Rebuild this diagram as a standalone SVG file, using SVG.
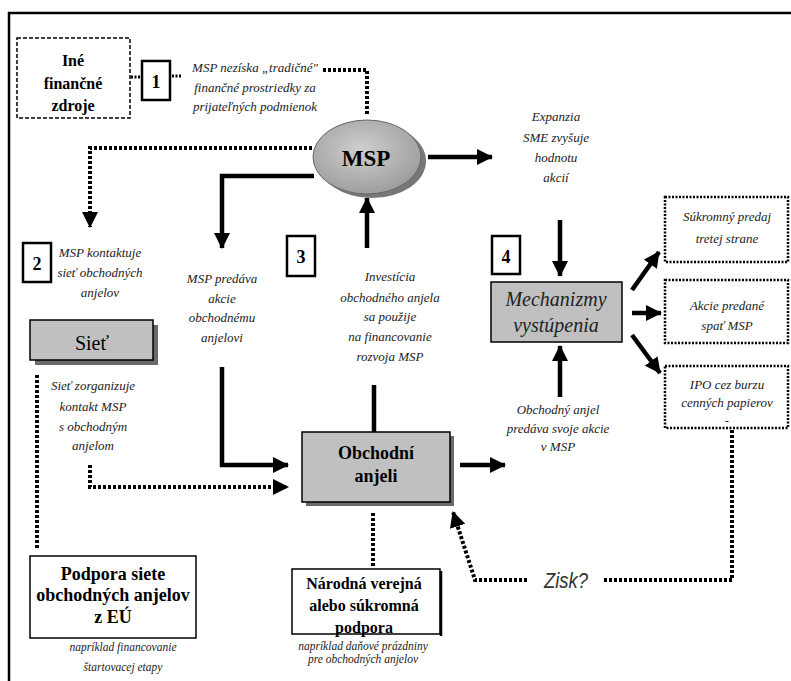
<svg xmlns="http://www.w3.org/2000/svg" width="791" height="681" viewBox="0 0 791 681">
<style>
.it{font-family:"Liberation Serif","Times New Roman",serif;font-style:italic;font-size:13px;text-anchor:middle;fill:#222}
.sm{font-size:11.5px}
.big{font-size:20px}
.bd{font-family:"Liberation Serif","Times New Roman",serif;font-weight:bold;text-anchor:middle;fill:#000}
.rg{font-family:"Liberation Serif","Times New Roman",serif;text-anchor:middle;fill:#000}
.sol{stroke:#000;stroke-width:4.5;fill:none}
.dot{stroke:#000;stroke-width:4;stroke-dasharray:3 2;fill:none}
.num{fill:#fff;stroke:#000;stroke-width:2.5}
.gray{fill:#c0c0c0;stroke:#000;stroke-width:1.5}
.shadow{fill:#6a6a6a}
.dbox{fill:#fff;stroke:#000;stroke-width:2.5;stroke-dasharray:2 1.5}
</style>
<defs>
<marker id="ah" markerUnits="userSpaceOnUse" markerWidth="16" markerHeight="16" refX="15" refY="8" orient="auto">
<path d="M0,0 L16,8 L0,16 z" fill="#000"/>
</marker>
<radialGradient id="eg" cx="0.45" cy="0.4" r="0.65">
<stop offset="0" stop-color="#cfcfcf"/>
<stop offset="1" stop-color="#9a9a9a"/>
</radialGradient>
</defs>

<path d="M9,681 V13 H791" fill="none" stroke="#000" stroke-width="2.5"/>

<g id="connectors">
<path d="M131,77 H141" stroke="#000" stroke-width="3" stroke-dasharray="2 1.5"/>
<path d="M172,76 H181" stroke="#000" stroke-width="3" stroke-dasharray="2 1.5"/>
<path class="dot" d="M323,70 H367 V114"/>
<path class="dot" d="M312,148 H90 V227" marker-end="url(#ah)"/>
<path class="sol" d="M314,176 H222 V248" marker-end="url(#ah)"/>
<path class="sol" stroke-width="6" d="M428,157 H492" marker-end="url(#ah)"/>
<path class="sol" d="M367,248 V198" marker-end="url(#ah)"/>
<path class="sol" d="M374,385 V432"/>
<path class="sol" d="M222,367 V465 H288" marker-end="url(#ah)"/>
<path class="dot" d="M90,465 V487 H288" marker-end="url(#ah)"/>
<path class="sol" stroke-width="6" d="M460,465 H505" marker-end="url(#ah)"/>
<path class="sol" d="M560,397 V346" marker-end="url(#ah)"/>
<path class="sol" d="M560,220 V276" marker-end="url(#ah)"/>
<path class="sol" d="M632,290 L659,252" marker-end="url(#ah)"/>
<path class="sol" d="M632,313 H661" marker-end="url(#ah)"/>
<path class="sol" d="M632,335 L660,373" marker-end="url(#ah)"/>
<path class="dot" d="M732,430 V580 H602"/>
<path class="dot" d="M527,580 H475 L453,512" marker-end="url(#ah)"/>
<path class="dot" d="M373,513 V568"/>
<path class="dot" d="M37,375 V548"/>
</g>

<g id="ine-zdroje">
<rect x="17" y="38" width="113" height="80" fill="#fff" stroke="#000" stroke-width="1.5" stroke-dasharray="4 2"/>
<text class="bd" font-size="16" x="73" y="66">Iné</text>
<text class="bd" font-size="16" x="73" y="89">finančné</text>
<text class="bd" font-size="16" x="73" y="111">zdroje</text>
</g>

<g id="step1">
<rect class="num" x="142" y="61" width="28" height="39"/>
<text class="bd" font-size="18" x="156" y="88">1</text>
</g>

<g id="label1">
<text class="it" x="255" y="72">MSP nezíska „tradičné"</text>
<text class="it" x="255" y="92">finančné prostriedky za</text>
<text class="it" x="255" y="111">prijateľných podmienok</text>
</g>

<g id="msp">
<ellipse cx="372" cy="161" rx="54" ry="37" fill="#777"/>
<ellipse cx="367" cy="157" rx="54" ry="37" fill="url(#eg)" stroke="#666" stroke-width="1"/>
<text class="bd" font-size="23" x="366" y="166">MSP</text>
</g>

<g id="expanzia">
<text class="it" x="556" y="121">Expanzia</text>
<text class="it" x="556" y="142">SME zvyšuje</text>
<text class="it" x="556" y="162">hodnotu</text>
<text class="it" x="556" y="182">akcií</text>
</g>

<g id="step2">
<rect class="num" x="23" y="243" width="28" height="39"/>
<text class="bd" font-size="18" x="37" y="270">2</text>
<text class="it" x="100" y="257">MSP kontaktuje</text>
<text class="it" x="100" y="277">sieť obchodných</text>
<text class="it" x="100" y="297">anjelov</text>
</g>

<g id="siet">
<rect class="shadow" x="35" y="325" width="123" height="40"/>
<rect class="gray" x="30" y="320" width="123" height="40"/>
<text class="rg" font-size="20" x="92" y="350">Sieť</text>
<text class="it" x="93" y="390">Sieť zorganizuje</text>
<text class="it" x="93" y="411">kontakt MSP</text>
<text class="it" x="93" y="431">s obchodným</text>
<text class="it" x="93" y="450">anjelom</text>
</g>

<g id="msp-predava">
<text class="it" x="222" y="283">MSP predáva</text>
<text class="it" x="222" y="303">akcie</text>
<text class="it" x="222" y="322">obchodnému</text>
<text class="it" x="222" y="342">anjelovi</text>
</g>

<g id="step3">
<rect class="num" x="287" y="236" width="28" height="40"/>
<text class="bd" font-size="18" x="301" y="263">3</text>
<text class="it" x="390" y="281">Investícia</text>
<text class="it" x="390" y="302">obchodného anjela</text>
<text class="it" x="390" y="321">sa použije</text>
<text class="it" x="390" y="341">na financovanie</text>
<text class="it" x="390" y="361">rozvoja MSP</text>
</g>

<g id="step4">
<rect class="num" x="492" y="236" width="28" height="38"/>
<text class="bd" font-size="18" x="506" y="263">4</text>
</g>

<g id="mechanizmy">
<rect class="gray" x="491" y="282" width="131" height="60"/>
<text class="it big" x="556" y="306">Mechanizmy</text>
<text class="it big" x="556" y="332">vystúpenia</text>
</g>

<g id="sukromny-predaj">
<rect class="dbox" x="665" y="197" width="123" height="65"/>
<text class="it" x="727" y="221">Súkromný predaj</text>
<text class="it" x="727" y="243">tretej strane</text>
</g>

<g id="akcie-spat">
<rect class="dbox" x="665" y="280" width="123" height="63"/>
<text class="it" x="727" y="310">Akcie predané</text>
<text class="it" x="727" y="330">spať MSP</text>
</g>

<g id="ipo">
<rect class="dbox" x="665" y="366" width="123" height="62"/>
<text class="it" x="727" y="389">IPO cez burzu</text>
<text class="it" x="727" y="407">cenných papierov</text>
<text class="it sm" x="727" y="424">-</text>
</g>

<g id="obchodni-anjeli">
<rect class="shadow" x="306" y="436" width="148" height="70"/>
<rect class="gray" x="302" y="432" width="148" height="70"/>
<text class="bd" font-size="18" x="376" y="459">Obchodní</text>
<text class="bd" font-size="18" x="376" y="482">anjeli</text>
</g>

<g id="predava-akcie">
<text class="it" x="558" y="414">Obchodný anjel</text>
<text class="it" x="558" y="433">predáva svoje akcie</text>
<text class="it" x="558" y="451">v MSP</text>
</g>

<g id="zisk">
<text x="566" y="588" font-family="Liberation Sans, sans-serif" font-style="italic" font-size="22" text-anchor="middle" fill="#333" textLength="44" lengthAdjust="spacingAndGlyphs">Zisk?</text>
</g>

<g id="podpora-eu">
<rect x="30" y="556" width="166" height="82" fill="#fff" stroke="#000" stroke-width="1.5"/>
<text class="bd" font-size="18" x="113" y="580">Podpora siete</text>
<text class="bd" font-size="18" x="113" y="601">obchodných anjelov</text>
<text class="bd" font-size="18" x="113" y="623">z EÚ</text>
<text class="it sm" x="123" y="651">napríklad financovanie</text>
<text class="it sm" x="123" y="671">štartovacej etapy</text>
</g>

<g id="narodna-podpora">
<rect x="292" y="569" width="148" height="65" fill="#fff" stroke="#000" stroke-width="1.5"/>
<path d="M441,571 V636" stroke="#000" stroke-width="2.5"/>
<text class="bd" font-size="16" x="364" y="589">Národná verejná</text>
<text class="bd" font-size="16" x="364" y="611">alebo súkromná</text>
<text class="bd" font-size="16" x="364" y="633">podpora</text>
<text class="it sm" x="363" y="650">napríklad daňové prázdniny</text>
<text class="it sm" x="363" y="663">pre obchodných anjelov</text>
</g>
</svg>
